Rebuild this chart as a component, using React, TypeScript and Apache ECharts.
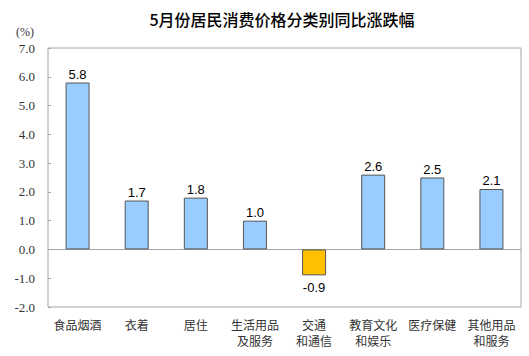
import React, { useEffect, useRef } from "react";
import * as echarts from "echarts";

const categories = [
  "食品烟酒",
  "衣着",
  "居住",
  "生活用品\n及服务",
  "交通\n和通信",
  "教育文化\n和娱乐",
  "医疗保健",
  "其他用品\n和服务",
];
const values = [5.8, 1.7, 1.8, 1.0, -0.9, 2.6, 2.5, 2.1];
const yMin = -2;
const yMax = 7;
const yInterval = 1;
const titleText = "5月份居民消费价格分类别同比涨跌幅";
const unitText = "(%)";

export default function App() {
  const ref = useRef<HTMLDivElement>(null);
  useEffect(() => {
    if (!ref.current) return;
    const chart = echarts.init(ref.current, null, { renderer: "svg" });
    chart.setOption({
      animation: false,
      backgroundColor: "#ffffff",
      title: {
        text: titleText,
        left: 277,
        textAlign: "center",
        top: 6,
        textStyle: {
          fontFamily: "Noto Sans CJK SC",
          fontSize: 16,
          fontWeight: 500,
          color: "#000",
        },
      },
      graphic: [
        {
          type: "text",
          left: 16,
          top: 26,
          style: {
            text: unitText,
            fontFamily: "Liberation Serif, serif",
            fontSize: 12,
            fill: "#333",
          },
        },
      ],
      grid: {
        left: 48,
        right: 8,
        top: 48,
        bottom: 49,
        show: true,
        borderColor: "#a6a6a6",
        borderWidth: 1,
        backgroundColor: "transparent",
      },
      xAxis: {
        type: "category",
        data: categories,
        axisLine: { show: true, onZero: true, lineStyle: { color: "#a6a6a6" } },
        axisTick: { show: false },
        axisLabel: {
          interval: 0,
          fontFamily: "Noto Sans CJK SC",
          fontSize: 12,
          color: "#333",
          lineHeight: 16,
          margin: 9,
        },
        position: "bottom",
      },
      yAxis: {
        type: "value",
        min: yMin,
        max: yMax,
        interval: yInterval,
        axisLine: { show: false },
        axisTick: { show: true, inside: true, length: 3, lineStyle: { color: "#a6a6a6" } },
        splitLine: { show: false },
        axisLabel: {
          formatter: (v: number) => v.toFixed(1),
          fontFamily: "Liberation Serif, serif",
          fontSize: 13,
          color: "#333",
          margin: 13,
        },
      },
      series: [
        {
          type: "bar",
          barWidth: 24,
          data: values.map((v) => ({
            value: v,
            itemStyle: {
              color: v < 0 ? "#ffc000" : "#99ccff",
              borderColor: "#555",
              borderWidth: 1,
            },
            label: {
              show: true,
              position: v < 0 ? "bottom" : "top",
              distance: v < 0 ? 6 : 2,
            },
          })),
          label: {
            show: true,
            formatter: (p: any) => Number(p.value).toFixed(1),
            fontFamily: "Liberation Sans, Arial, sans-serif",
            fontSize: 13,
            color: "#000",
          },
        },
      ],
    });
    return () => chart.dispose();
  }, []);
  return (
    <div
      ref={ref}
      style={{ position: "fixed", left: 0, top: 0, width: 529, height: 356 }}
    />
  );
}
